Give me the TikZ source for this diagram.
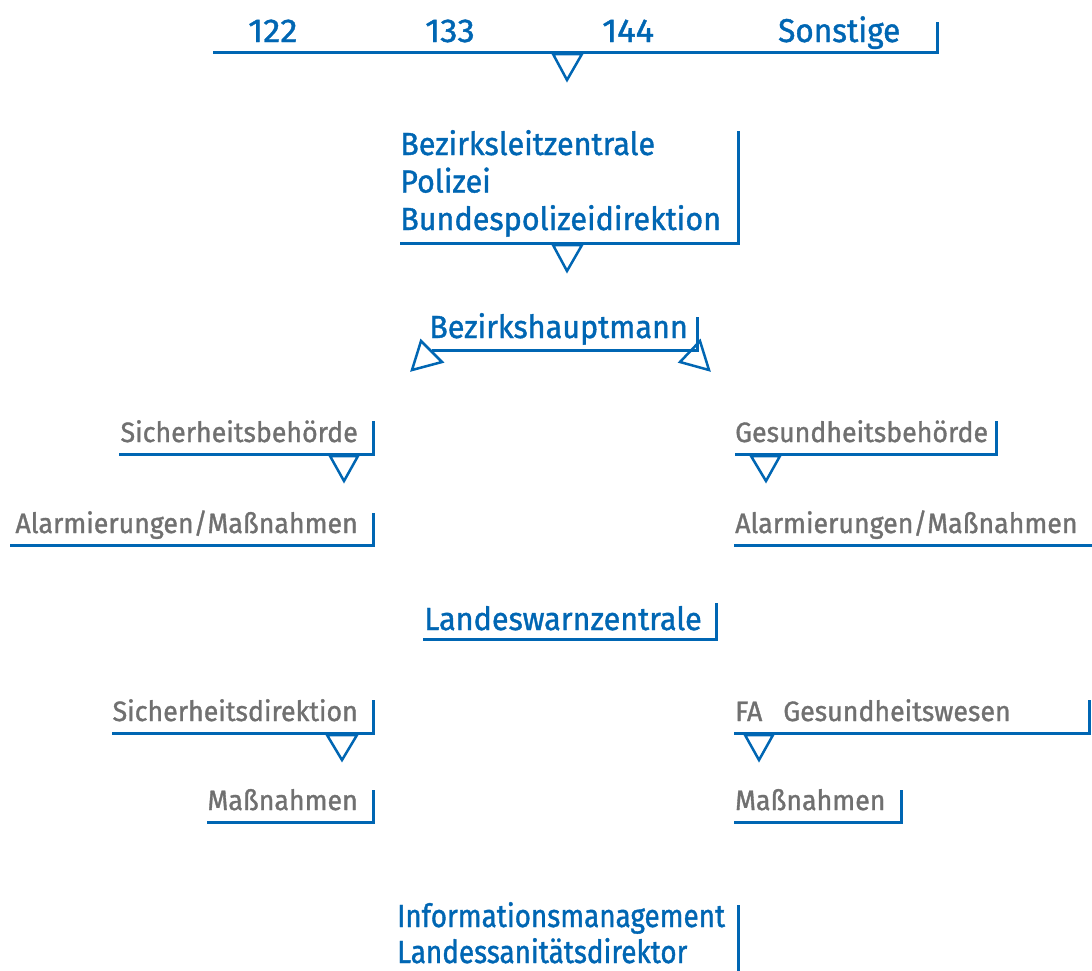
\documentclass[tikz,border=0pt]{standalone}
\usepackage{fontspec}
\setmainfont{Fira Sans}[FakeBold=1.2,FakeStretch=0.955]
\usetikzlibrary{calc,positioning}
\definecolor{ablue}{RGB}{0,102,179}
\definecolor{agrey}{RGB}{112,112,112}

\begin{document}
\begin{tikzpicture}[x=1pt,y=-1pt,
  blue label/.style={anchor=base west,inner sep=0pt,text=ablue,font=\fontsize{32}{37.5}\selectfont,align=left},
  grey label/.style={inner sep=0pt,text=agrey,font=\fontsize{28}{32}\selectfont},
  bar/.style={draw=ablue,line width=3pt},
  tri/.style={draw=ablue,line width=2.5pt,line join=miter}]
\useasboundingbox (0,0) rectangle (1092,970);
\clip (0,0) rectangle (1092,970);
% numbers
\node[blue label,font=\fontsize{33}{37}\selectfont\addfontfeature{FakeStretch=1.05}] (n122) at (248,42) {122};
\node[blue label,font=\fontsize{33}{37}\selectfont\addfontfeature{FakeStretch=1.05}] (n133) at (425,42) {133};
\node[blue label,font=\fontsize{33}{37}\selectfont\addfontfeature{FakeStretch=1.05}] (n144) at (602,42) {144};
\node[blue label,font=\fontsize{33}{37}\selectfont] (other) at (778,42) {Sonstige};
\draw[bar] (213,52) -- (937,52) -- (937,22);
\draw[tri] (553,54) -- (582,54) -- (567,80) -- cycle;
% centre
\node[blue label] (blz) at (400,230) {Bezirksleitzentrale\\Polizei\\Bundespolizeidirektion};
\draw[bar] (400,243) -- (738,243) -- (738,131);
\draw[tri] (553,245) -- (582,245) -- (567,271) -- cycle;
\node[blue label] (bh) at (429,338) {Bezirkshauptmann};
\draw[bar] (432,350) -- (697,350) -- (697,317);
\draw[tri] (421,341) -- (442,362) -- (412,370) -- cycle;
\draw[tri] (700,341) -- (680,362) -- (709,370) -- cycle;
% left branch
\node[grey label,anchor=base east] (sb) at (358,442) {Sicherheitsbehörde};
\draw[bar] (119,454) -- (373,454) -- (373,421);
\draw[tri] (330,456) -- (358,456) -- (344,481) -- cycle;
\node[grey label,anchor=base east] (alml) at (358,533) {Alarmierungen/Maßnahmen};
\draw[bar] (10,545) -- (373,545) -- (373,513);
% right branch
\node[grey label,anchor=base west] (gb) at (735,442) {Gesundheitsbehörde};
\draw[bar] (735,454) -- (996,454) -- (996,421);
\draw[tri] (751,456) -- (780,456) -- (766,481) -- cycle;
\node[grey label,anchor=base west] (almr) at (735,533) {Alarmierungen/Maßnahmen};
\draw[bar] (734,545) -- (1100,545);
% land
\node[blue label] (lwz) at (424,630) {Landeswarnzentrale};
\draw[bar] (423,639) -- (716,639) -- (716,603);
\node[grey label,anchor=base east] (sd) at (358,721) {Sicherheitsdirektion};
\draw[bar] (112,733) -- (373,733) -- (373,700);
\draw[tri] (327,735) -- (357,735) -- (342,760) -- cycle;
\node[grey label,anchor=base east] (msl) at (358,810) {Maßnahmen};
\draw[bar] (207,822) -- (373,822) -- (373,790);
\node[grey label,anchor=base west] (fa) at (735,721) {FA\hspace{21pt}Gesundheitswesen};
\draw[bar] (734,733) -- (1089,733) -- (1089,700);
\draw[tri] (745,735) -- (773,735) -- (759,760) -- cycle;
\node[grey label,anchor=base west] (msr) at (735,810) {Maßnahmen};
\draw[bar] (734,822) -- (901,822) -- (901,790);
% bottom
\node[blue label,align=left,font=\fontsize{32}{36}\selectfont\addfontfeature{FakeStretch=0.87}] (info) at (397,963) {Informationsmanagement\\Landessanitätsdirektor};
\draw[bar] (738,905) -- (738,975);
\end{tikzpicture}
\end{document}
